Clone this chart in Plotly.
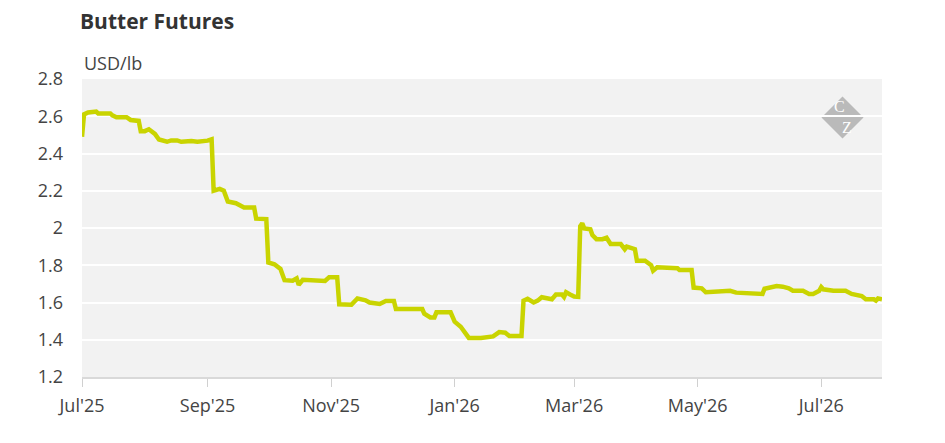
import plotly.graph_objects as go

# butter futures
dates = [
    "2025-07-01", "2025-07-02", "2025-07-04", "2025-07-08", "2025-07-09", "2025-07-15",
    "2025-07-16", "2025-07-18", "2025-07-23", "2025-07-25", "2025-07-29", "2025-07-30",
    "2025-08-01", "2025-08-03", "2025-08-06", "2025-08-08", "2025-08-12", "2025-08-14",
    "2025-08-17", "2025-08-19", "2025-08-24", "2025-08-27", "2025-09-01", "2025-09-03",
    "2025-09-04", "2025-09-07", "2025-09-09", "2025-09-11", "2025-09-15", "2025-09-18",
    "2025-09-19", "2025-09-24", "2025-09-25", "2025-09-30", "2025-10-01", "2025-10-04",
    "2025-10-07", "2025-10-09", "2025-10-13", "2025-10-15", "2025-10-16", "2025-10-18",
    "2025-10-22", "2025-10-29", "2025-10-31", "2025-11-04", "2025-11-05", "2025-11-11",
    "2025-11-14", "2025-11-18", "2025-11-20", "2025-11-25", "2025-11-28", "2025-12-02",
    "2025-12-03", "2025-12-16", "2025-12-17", "2025-12-20", "2025-12-22", "2025-12-23",
    "2025-12-30", "2026-01-01", "2026-01-04", "2026-01-06", "2026-01-08", "2026-01-14",
    "2026-01-20", "2026-01-23", "2026-01-26", "2026-01-28", "2026-02-03", "2026-02-04",
    "2026-02-06", "2026-02-09", "2026-02-11", "2026-02-13", "2026-02-15", "2026-02-18",
    "2026-02-20", "2026-02-23", "2026-02-24", "2026-02-25", "2026-02-27", "2026-03-01",
    "2026-03-03", "2026-03-04", "2026-03-05", "2026-03-06", "2026-03-09", "2026-03-10",
    "2026-03-12", "2026-03-15", "2026-03-17", "2026-03-19", "2026-03-24", "2026-03-26",
    "2026-03-27", "2026-03-31", "2026-04-01", "2026-04-05", "2026-04-08", "2026-04-09",
    "2026-04-11", "2026-04-16", "2026-04-21", "2026-04-22", "2026-04-28", "2026-04-29",
    "2026-05-03", "2026-05-05", "2026-05-08", "2026-05-17", "2026-05-20", "2026-05-26",
    "2026-06-02", "2026-06-03", "2026-06-06", "2026-06-09", "2026-06-12", "2026-06-15",
    "2026-06-17", "2026-06-22", "2026-06-25", "2026-06-27", "2026-06-30", "2026-07-01",
    "2026-07-02", "2026-07-07", "2026-07-13", "2026-07-16", "2026-07-21", "2026-07-23",
    "2026-07-27", "2026-07-28", "2026-07-29", "2026-07-31",
]
prices = [
    2.49, 2.61, 2.62, 2.625, 2.615, 2.615,
    2.605, 2.595, 2.595, 2.58, 2.575, 2.52,
    2.52, 2.53, 2.505, 2.475, 2.463, 2.47,
    2.47, 2.463, 2.467, 2.463, 2.469, 2.476,
    2.20, 2.21, 2.20, 2.142, 2.133, 2.118,
    2.11, 2.11, 2.05, 2.048, 1.815, 1.805,
    1.78, 1.72, 1.717, 1.73, 1.695, 1.722,
    1.72, 1.716, 1.735, 1.735, 1.59, 1.588,
    1.622, 1.612, 1.60, 1.592, 1.608, 1.608,
    1.565, 1.565, 1.54, 1.52, 1.52, 1.547,
    1.547, 1.497, 1.47, 1.443, 1.41, 1.41,
    1.418, 1.441, 1.438, 1.42, 1.42, 1.61,
    1.62, 1.60, 1.61, 1.628, 1.622, 1.617,
    1.643, 1.643, 1.63, 1.655, 1.643, 1.632,
    1.63, 2.01, 2.025, 1.998, 1.993, 1.962,
    1.94, 1.94, 1.948, 1.914, 1.914, 1.886,
    1.90, 1.886, 1.824, 1.824, 1.801, 1.771,
    1.789, 1.784, 1.784, 1.775, 1.775, 1.68,
    1.676, 1.655, 1.658, 1.663, 1.653, 1.649,
    1.646, 1.674, 1.679, 1.688, 1.685, 1.676,
    1.663, 1.663, 1.646, 1.646, 1.663, 1.683,
    1.671, 1.663, 1.663, 1.646, 1.635, 1.617,
    1.617, 1.61, 1.622, 1.617,
]

tick_dates = ["2025-07-01", "2025-09-01", "2025-11-01", "2026-01-01",
              "2026-03-01", "2026-05-01", "2026-07-01"]
tick_labels = ["Jul'25", "Sep'25", "Nov'25", "Jan'26", "Mar'26", "May'26", "Jul'26"]

# page body has an 8px margin, so the figure is a little smaller than the window
W, H = 937, 435
L, R, T, B = 74, 63, 71, 66
pw, ph = W - L - R, H - T - B

fig = go.Figure()
fig.add_trace(go.Scatter(
    x=dates, y=prices, mode="lines",
    line=dict(color="#c9d400", width=4.5),
    hoverinfo="x+y",
))

# CZ logo: grey diamond with white letters (window px -> paper coords)
cx, cy = (842.5 - 82) / pw, (377 - 117.5) / ph
hx, hy = 21 / pw, 21 / ph
fig.add_shape(
    type="path", xref="paper", yref="paper",
    path=f"M {cx-hx} {cy} L {cx} {cy+hy} L {cx+hx} {cy} L {cx} {cy-hy} Z",
    fillcolor="rgba(130,130,130,0.5)", line=dict(width=0), layer="below",
)
# one annotation for both letters: C up-left, Z down-right
fig.add_annotation(x=cx, y=cy, xref="paper", yref="paper",
                   text="C<br>\u00a0\u00a0Z", align="left", xanchor="center", yanchor="middle",
                   showarrow=False,
                   font=dict(family="Liberation Serif", size=16, color="white"))
fig.add_annotation(
    text="USD/lb", xref="paper", yref="paper", x=0, y=1 + 16 / ph,
    xanchor="left", yanchor="middle", showarrow=False,
    font=dict(family="Open Sans", size=18, color="#444"),
)

fig.update_layout(
    width=W, height=H,
    margin=dict(l=L, r=R, t=T, b=B),
    paper_bgcolor="white",
    plot_bgcolor="#f2f2f2",
    font=dict(family="Open Sans", size=18, color="#444"),
    showlegend=False,
    title=dict(text="<b>Butter Futures</b>", x=72 / W, xanchor="left",
               y=1 - 14 / H, yanchor="middle",
               font=dict(family="Open Sans", size=21, color="#333")),
)

fig.update_xaxes(
    type="date", range=["2025-07-01", "2026-07-31"],
    tickvals=tick_dates, ticktext=tick_labels,
    showgrid=False, zeroline=False,
    showline=True, linecolor="#d9d9d9", linewidth=2,
    ticks="outside", ticklen=8, tickcolor="#d0d0d0", tickwidth=1,
    ticklabelstandoff=3,
    tickfont=dict(size=18, color="#444"),
)
fig.update_yaxes(
    range=[1.2, 2.8], dtick=0.2, tick0=1.2,
    showgrid=True, gridcolor="white", gridwidth=2,
    zeroline=False, ticks="", ticklabelstandoff=18,
    tickfont=dict(size=18, color="#444"),
)

fig.write_html("out.html")
